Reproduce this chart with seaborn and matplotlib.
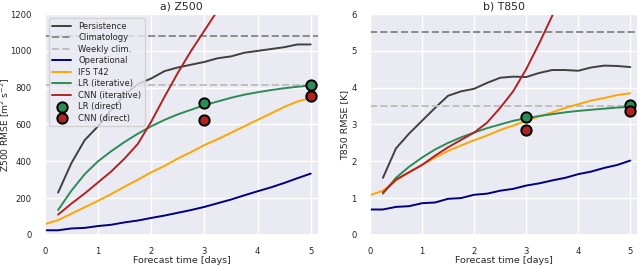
import numpy as np
import seaborn as sns
import matplotlib.pyplot as plt

sns.set_theme(style='darkgrid')
plt.rcParams['font.family'] = ['DejaVu Sans']

days = [0.0, 0.25, 0.5, 0.75, 1.0, 1.25, 1.5, 1.75, 2.0, 2.25, 2.5, 2.75, 3.0,
        3.25, 3.5, 3.75, 4.0, 4.25, 4.5, 4.75, 5.0]
days_from6h = days[1:]
direct_days = [3, 5]

# Z500
z_persistence = [230, 390, 515, 590, 680, 760, 820, 850, 890, 910, 925, 940, 960,
                 970, 990, 1000, 1010, 1020, 1035, 1035]
z_clim = 1080
z_weekly = 816
z_operational = [25, 25, 35, 38, 48, 55, 68, 78, 92, 105, 120, 135, 152, 172, 192,
                 215, 237, 258, 282, 308, 333]
z_ifs = [58, 80, 115, 150, 185, 222, 262, 300, 340, 375, 415, 450, 488, 520, 555,
         590, 625, 660, 695, 725, 745]
z_lr_iter = [135, 240, 330, 400, 455, 505, 550, 590, 625, 655, 680, 705, 725, 745,
             762, 775, 787, 797, 805, 812]
z_cnn_iter = [110, 170, 225, 285, 345, 415, 495, 615, 750, 880, 1000, 1110, 1220,
              1340, 1460, 1580, 1700, 1820, 1940, 2060]
z_lr_direct = [715, 815]
z_cnn_direct = [627, 757]

# T850
t_persistence = [1.55, 2.35, 2.75, 3.1, 3.45, 3.78, 3.9, 3.97, 4.13, 4.27, 4.3, 4.29,
                 4.4, 4.48, 4.48, 4.46, 4.55, 4.6, 4.59, 4.56]
t_clim = 5.5
t_weekly = 3.5
t_operational = [0.69, 0.69, 0.76, 0.78, 0.86, 0.88, 0.98, 1.0, 1.09, 1.12, 1.2, 1.25,
                 1.34, 1.4, 1.48, 1.55, 1.65, 1.72, 1.82, 1.9, 2.02]
t_ifs = [1.08, 1.2, 1.48, 1.7, 1.9, 2.1, 2.28, 2.43, 2.57, 2.7, 2.85, 2.97, 3.1, 3.22,
         3.33, 3.45, 3.55, 3.65, 3.72, 3.8, 3.85]
t_lr_iter = [1.12, 1.55, 1.85, 2.1, 2.32, 2.5, 2.65, 2.78, 2.9, 3.0, 3.1, 3.17, 3.23,
             3.28, 3.33, 3.37, 3.4, 3.43, 3.46, 3.48]
t_cnn_iter = [1.15, 1.5, 1.7, 1.9, 2.15, 2.38, 2.58, 2.78, 3.05, 3.45, 3.9, 4.5, 5.2,
              5.95, 6.8, 7.7, 8.6, 9.5, 10.4, 11.3]
t_lr_direct = [3.19, 3.52]
t_cnn_direct = [2.85, 3.38]

fig = plt.figure(figsize=(6.4, 2.66), dpi=100)
ax1 = fig.add_axes([0.070, 0.117, 0.428, 0.830])
ax2 = fig.add_axes([0.578, 0.117, 0.419, 0.830])

c_lr = '#2e8b57'
c_cnn = '#b22222'


def draw(ax, pers, clim, weekly, oper, ifs, lr_it, cnn_it, lr_d, cnn_d):
    sns.lineplot(x=days_from6h, y=pers, ax=ax, color='0.25', lw=1.4, label='Persistence')
    ax.axhline(clim, color='0.55', ls='--', lw=1.4, label='Climatology')
    ax.axhline(weekly, color='0.75', ls='--', lw=1.4, label='Weekly clim.')
    sns.lineplot(x=days, y=oper, ax=ax, color='navy', lw=1.4, label='Operational')
    sns.lineplot(x=days, y=ifs, ax=ax, color='orange', lw=1.4, label='IFS T42')
    sns.lineplot(x=days_from6h, y=lr_it, ax=ax, color=c_lr, lw=1.4, label='LR (iterative)')
    sns.lineplot(x=days_from6h, y=cnn_it, ax=ax, color=c_cnn, lw=1.4, label='CNN (iterative)')
    sns.scatterplot(x=direct_days, y=lr_d, ax=ax, color=c_lr, s=55, edgecolor='black',
                    linewidth=1.4, zorder=5, label='LR (direct)')
    sns.scatterplot(x=direct_days, y=cnn_d, ax=ax, color=c_cnn, s=55, edgecolor='black',
                    linewidth=1.4, zorder=5, label='CNN (direct)')
    ax.set_xlim(0, 5.15)
    ax.set_xlabel('Forecast time [days]', fontsize=6.8, labelpad=0)
    ax.tick_params(labelsize=6.1, pad=2.5)
    ax.tick_params(axis='y', pad=3.5)


draw(ax1, z_persistence, z_clim, z_weekly, z_operational, z_ifs, z_lr_iter, z_cnn_iter,
     z_lr_direct, z_cnn_direct)
draw(ax2, t_persistence, t_clim, t_weekly, t_operational, t_ifs, t_lr_iter, t_cnn_iter,
     t_lr_direct, t_cnn_direct)

ax1.set_ylim(0, 1200)
ax1.set_ylabel(r'Z500 RMSE [m$^2$ s$^{-2}$]', fontsize=6.6)
ax1.yaxis.set_label_coords(-0.118, 0.5)
ax1.set_title('a) Z500', fontsize=7.8, pad=3)
ax1.legend(loc='upper left', fontsize=6, handlelength=2.3, labelspacing=0.3,
           borderpad=0.4, framealpha=0.8)

ax2.set_ylim(0, 6)
ax2.set_ylabel('T850 RMSE [K]', fontsize=6.8)
ax2.yaxis.set_label_coords(-0.078, 0.5)
ax2.set_title('b) T850', fontsize=7.8, pad=3)
ax2.get_legend().remove()

fig.savefig('out.png', dpi=100)
